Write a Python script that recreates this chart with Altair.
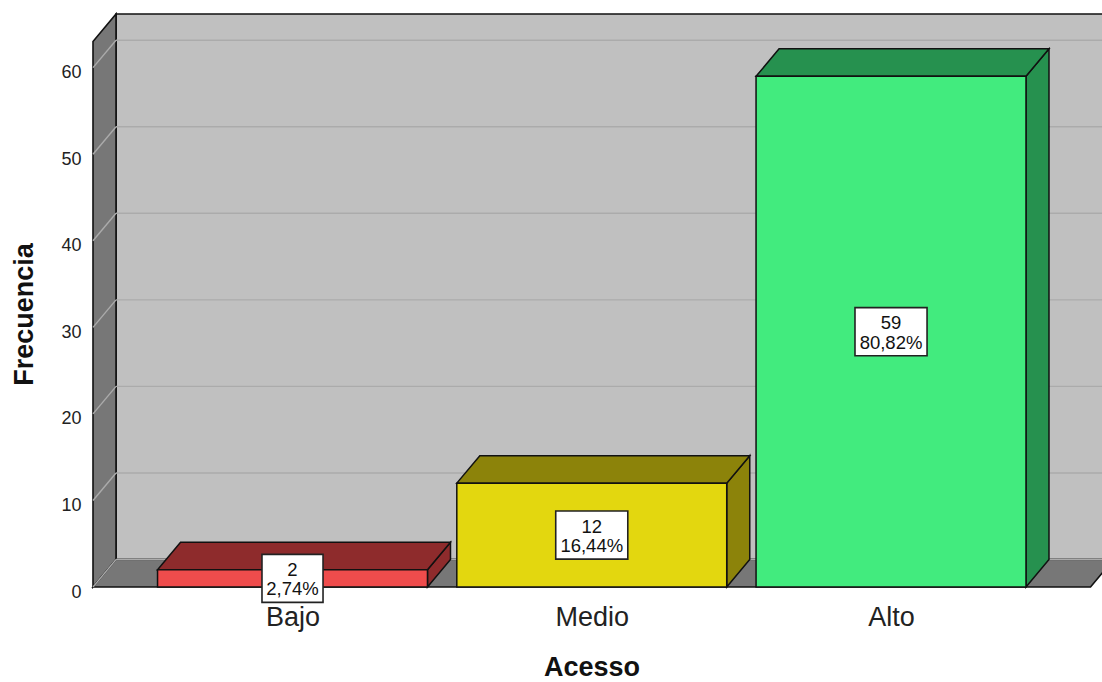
import json
import altair as alt
import pandas as pd

# ---- data ----
cats = ["Bajo", "Medio", "Alto"]
counts = [2, 12, 59]
pct_labels = ["2,74%", "16,44%", "80,82%"]
y_ticks = [0, 10, 20, 30, 40, 50, 60]
front_colors = ["#ef4c4c", "#e3d70f", "#42eb7e"]
shade_colors = ["#8e2b2c", "#8c830a", "#26914f"]

# ---- style / geometry constants (in scale units) ----
X_LO = 1 / 3          # left front edge of the floor
X_HI = 11 / 3         # right front edge of the floor
X_MAX = 3.705         # right end of the visible plot
HALF = 0.451          # half bar width (category step = 1)
DX = 0.0769           # depth offset in x units
Y_MAX = 66.2          # top of the back wall
DY = 3.175            # depth offset in y units
BOX_H = 5.55
BOX_W_CHAR = 0.0368
BOX_W_PAD = 0.02

W, H = 1009, 573

xs = alt.Scale(domain=[X_LO, X_MAX], nice=False, zero=False)
ys = alt.Scale(domain=[0, Y_MAX], nice=False, zero=False)

FONT = "Liberation Sans"
x_axis = alt.Axis(
    values=[1, 2, 3],
    labelExpr=f"{json.dumps(cats)}[datum.value - 1]",
    title="Acesso", domain=False, ticks=False, tickSize=0, grid=False,
    labelFont=FONT, labelFontSize=27, labelColor="#222222",
    labelBaseline="alphabetic", labelPadding=38, labelFlush=False, labelOverlap=False,
    titleFont=FONT, titleFontSize=27, titleFontWeight="bold", titleColor="#111111",
    titleX=498.5, titleY=88, titleBaseline="alphabetic", titleAlign="center",
)
y_axis = alt.Axis(
    values=y_ticks, title="Frecuencia", domain=False, ticks=False, tickSize=0, grid=False,
    labelFont=FONT, labelFontSize=18, labelColor="#222222", labelPadding=12,
    labelOffset=5, labelBaseline="middle", labelAlign="right", labelFlush=False,
    titleFont=FONT, titleFontSize=27, titleFontWeight="bold", titleColor="#111111",
    titleX=-61, titleY=300, titleAngle=270, titleBaseline="alphabetic", titleAlign="center",
)


def X(f):
    return alt.X(f, type="quantitative", scale=xs, axis=x_axis)


def Y(f):
    return alt.Y(f, type="quantitative", scale=ys, axis=y_axis, stack=None)


def X2(f):
    return alt.X2(f)


def Y2(f):
    return alt.Y2(f)


# ---- walls and floor ----
back = pd.DataFrame([{"x": X_LO + DX, "x2": X_MAX + 0.1, "y": DY, "y2": Y_MAX}])
back_l = alt.Chart(back).mark_rect(fill="#c0c0c0", stroke="#111111", strokeWidth=1.6).encode(
    x=X("x"), x2=X2("x2"), y=Y("y"), y2=Y2("y2"))

side = pd.DataFrame([
    {"x": X_LO, "lo": 0, "hi": Y_MAX - DY},
    {"x": X_LO + DX, "lo": DY, "hi": Y_MAX},
])
side_l = alt.Chart(side).mark_area(fill="#777777", stroke="#111111", strokeWidth=1.6,
                                   strokeJoin="miter").encode(
    x=X("x"), y=Y("lo"), y2=Y2("hi"))

floor = pd.DataFrame([
    {"x": X_LO, "lo": 0, "hi": 0},
    {"x": X_LO + DX, "lo": 0, "hi": DY},
    {"x": X_HI, "lo": 0, "hi": DY},
    {"x": X_HI + DX, "lo": DY, "hi": DY},
])
floor_l = alt.Chart(floor).mark_area(fill="#777777", stroke="#111111", strokeWidth=1.6,
                                     strokeJoin="miter").encode(
    x=X("x"), y=Y("lo"), y2=Y2("hi"))

grid_rows = []
for v in y_ticks:
    grid_rows.append({"x": X_LO, "x2": X_LO + DX, "y": v, "y2": v + DY})
    grid_rows.append({"x": X_LO + DX, "x2": X_MAX + 0.1, "y": v + DY, "y2": v + DY})
grid = pd.DataFrame(grid_rows)
grid_l = alt.Chart(grid).mark_rule(color="#ababab", strokeWidth=1.4).encode(
    x=X("x"), x2=X2("x2"), y=Y("y"), y2=Y2("y2"))

# ---- bars ----
front_rows, side_rows, top_rows, box_rows = [], [], [], []
for i, (c, v, p) in enumerate(zip(cats, counts, pct_labels)):
    pos = i + 1
    front_rows.append({"cat": c, "x": pos - HALF, "x2": pos + HALF, "y": 0, "y2": v,
                       "fill": front_colors[i]})
    side_rows += [
        {"cat": c, "x": pos + HALF, "lo": 0, "hi": v, "fill": shade_colors[i]},
        {"cat": c, "x": pos + HALF + DX, "lo": DY, "hi": v + DY, "fill": shade_colors[i]},
    ]
    top_rows += [
        {"cat": c, "x": pos - HALF, "lo": v, "hi": v, "fill": shade_colors[i]},
        {"cat": c, "x": pos - HALF + DX, "lo": v, "hi": v + DY, "fill": shade_colors[i]},
        {"cat": c, "x": pos + HALF, "lo": v, "hi": v + DY, "fill": shade_colors[i]},
        {"cat": c, "x": pos + HALF + DX, "lo": v + DY, "hi": v + DY, "fill": shade_colors[i]},
    ]
    n = max(len(str(v)), len(p))
    bw = n * BOX_W_CHAR + BOX_W_PAD
    box_rows.append({"cat": c, "x": pos - bw / 2, "x2": pos + bw / 2,
                     "y": v / 2 - BOX_H / 2, "y2": v / 2 + BOX_H / 2,
                     "cx": pos, "cy": v / 2, "label": f"{v}\n{p}"})

front = pd.DataFrame(front_rows)
sides = pd.DataFrame(side_rows)
tops = pd.DataFrame(top_rows)
boxes = pd.DataFrame(box_rows)

side_bars = alt.Chart(sides).mark_area(stroke="#111111", strokeWidth=1.5,
                                       strokeJoin="miter").encode(
    x=X("x"), y=Y("lo"), y2=Y2("hi"),
    fill=alt.Fill("fill:N", scale=None), detail="cat:N")
top_bars = alt.Chart(tops).mark_area(stroke="#111111", strokeWidth=1.5,
                                     strokeJoin="miter").encode(
    x=X("x"), y=Y("lo"), y2=Y2("hi"),
    fill=alt.Fill("fill:N", scale=None), detail="cat:N")
front_bars = alt.Chart(front).mark_rect(stroke="#111111", strokeWidth=1.5).encode(
    x=X("x"), x2=X2("x2"), y=Y("y"), y2=Y2("y2"),
    fill=alt.Fill("fill:N", scale=None))

box_l = alt.Chart(boxes).mark_rect(fill="white", stroke="#222222", strokeWidth=1.6).encode(
    x=X("x"), x2=X2("x2"), y=Y("y"), y2=Y2("y2"))
text_l = alt.Chart(boxes).mark_text(font=FONT, fontSize=18.5, color="#111111",
                                    lineBreak="\n", lineHeight=19.5,
                                    align="center", baseline="middle", dy=-8.5).encode(
    x=X("cx"), y=Y("cy"), text="label:N")

chart = alt.layer(
    back_l, side_l, floor_l, grid_l, side_bars, top_bars, front_bars, box_l, text_l
).properties(
    width=W, height=H,
    padding={"left": 93, "top": 14, "right": 0, "bottom": 95},
    autosize=alt.AutoSizeParams(type="none"),
    background="white",
).configure_view(stroke=None)

chart.save("out.html", embed_options={"renderer": "svg", "actions": False})
